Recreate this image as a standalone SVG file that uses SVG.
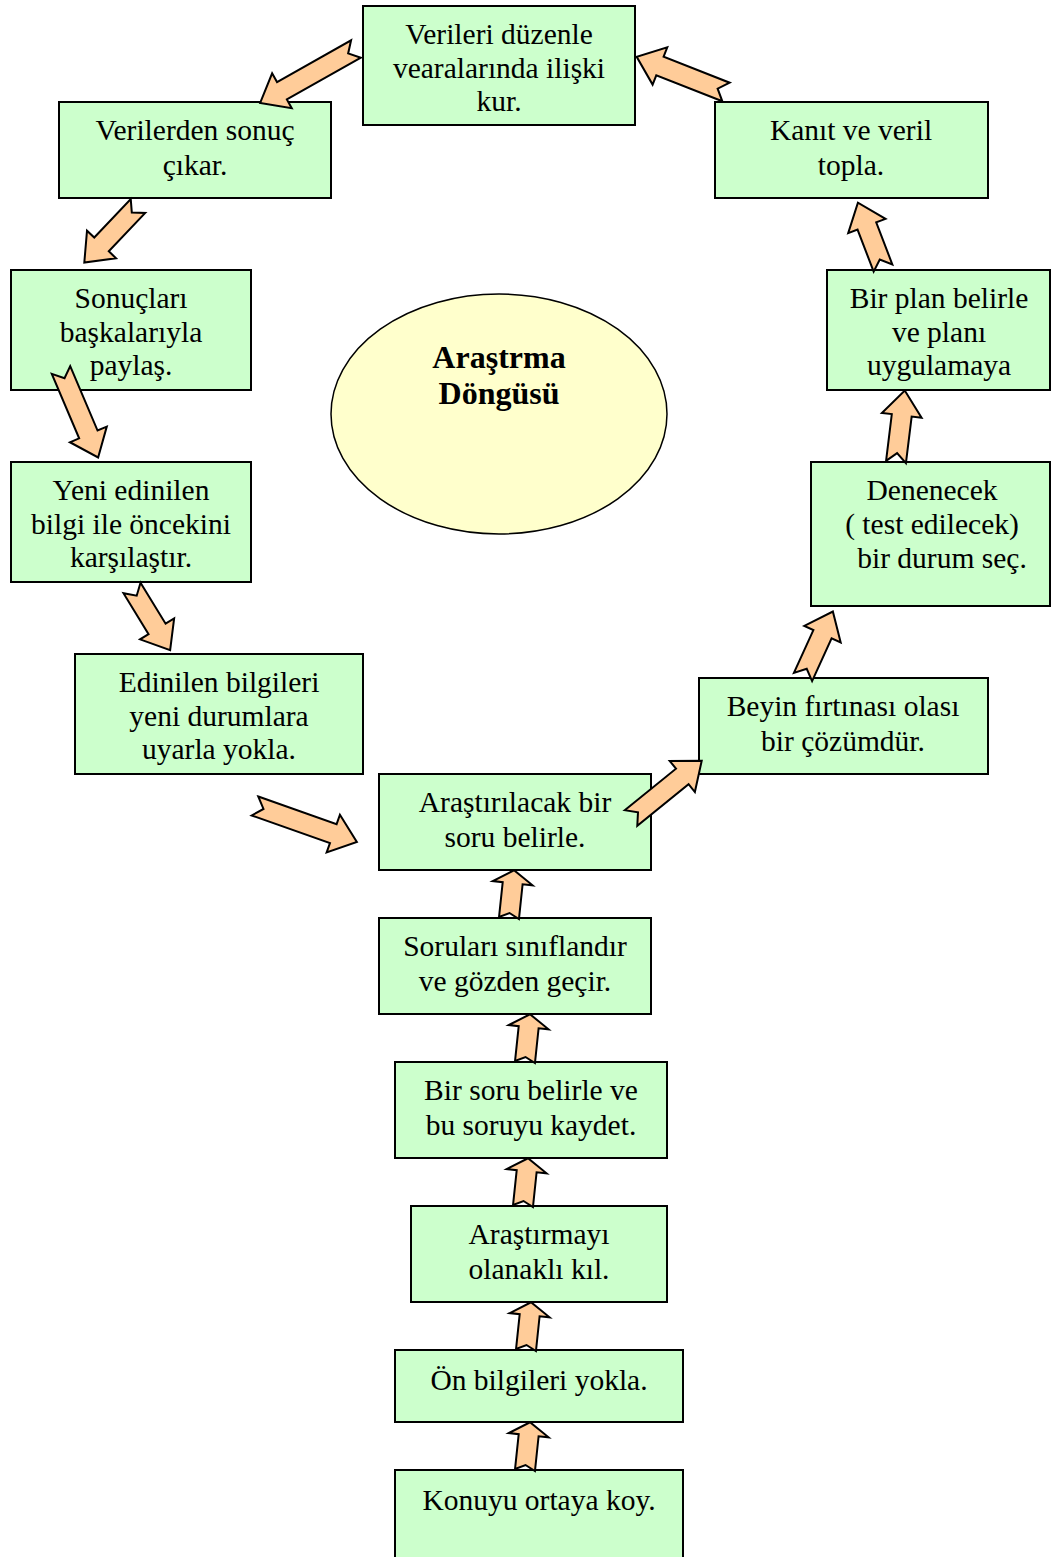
<svg xmlns="http://www.w3.org/2000/svg" width="1051" height="1557" viewBox="0 0 1051 1557">
<style>
.box{fill:#CCFFCC;stroke:#000;stroke-width:2}
.t{font-family:"Liberation Serif","Times New Roman",serif;font-size:29.5px;fill:#000;text-anchor:middle}
.tb{font-family:"Liberation Serif","Times New Roman",serif;font-size:32px;font-weight:bold;fill:#000;text-anchor:middle}
.arr{fill:#FFCC99;stroke:#000;stroke-width:2;stroke-linejoin:miter}
</style>
<rect width="1051" height="1557" fill="#fff"/>
<g id="ellipse"><ellipse cx="499" cy="414" rx="168" ry="120" fill="#FFFFCC" stroke="#000" stroke-width="1.5"/>
<text class="tb" x="499" y="368">Araştrma</text><text class="tb" x="499" y="404">Döngüsü</text></g>
<g id="n1"><rect class="box" x="363" y="6" width="272" height="119"/><text class="t" x="499" y="44">Verileri düzenle</text><text class="t" x="499" y="78">vearalarında ilişki</text><text class="t" x="499" y="111">kur.</text></g>
<g id="n2"><rect class="box" x="715" y="102" width="273" height="96"/><text class="t" x="851" y="140">Kanıt ve veril</text><text class="t" x="851" y="175">topla.</text></g>
<g id="n3"><rect class="box" x="59" y="102" width="272" height="96"/><text class="t" x="195" y="140">Verilerden sonuç</text><text class="t" x="195" y="175">çıkar.</text></g>
<g id="n4"><rect class="box" x="11" y="270" width="240" height="120"/><text class="t" x="131" y="308">Sonuçları</text><text class="t" x="131" y="342">başkalarıyla</text><text class="t" x="131" y="375">paylaş.</text></g>
<g id="n5"><rect class="box" x="827" y="270" width="223" height="120"/><text class="t" x="939" y="308">Bir plan belirle</text><text class="t" x="939" y="342">ve planı</text><text class="t" x="939" y="375">uygulamaya</text></g>
<g id="n6"><rect class="box" x="11" y="462" width="240" height="120"/><text class="t" x="131" y="500">Yeni edinilen</text><text class="t" x="131" y="534">bilgi ile öncekini</text><text class="t" x="131" y="567">karşılaştır.</text></g>
<g id="n7"><rect class="box" x="811" y="462" width="239" height="144"/><text class="t" x="932" y="500">Denenecek</text><text class="t" x="932" y="534">( test edilecek)</text><text class="t" x="942" y="568">bir durum seç.</text></g>
<g id="n8"><rect class="box" x="75" y="654" width="288" height="120"/><text class="t" x="219" y="692">Edinilen bilgileri</text><text class="t" x="219" y="726">yeni durumlara</text><text class="t" x="219" y="759">uyarla yokla.</text></g>
<g id="n9"><rect class="box" x="699" y="678" width="289" height="96"/><text class="t" x="843" y="716">Beyin fırtınası olası</text><text class="t" x="843" y="751">bir çözümdür.</text></g>
<g id="n10"><rect class="box" x="379" y="774" width="272" height="96"/><text class="t" x="515" y="812">Araştırılacak bir</text><text class="t" x="515" y="847">soru belirle.</text></g>
<g id="n11"><rect class="box" x="379" y="918" width="272" height="96"/><text class="t" x="515" y="956">Soruları sınıflandır</text><text class="t" x="515" y="991">ve gözden geçir.</text></g>
<g id="n12"><rect class="box" x="395" y="1062" width="272" height="96"/><text class="t" x="531" y="1100">Bir soru belirle ve</text><text class="t" x="531" y="1135">bu soruyu kaydet.</text></g>
<g id="n13"><rect class="box" x="411" y="1206" width="256" height="96"/><text class="t" x="539" y="1244">Araştırmayı</text><text class="t" x="539" y="1279">olanaklı kıl.</text></g>
<g id="n14"><rect class="box" x="395" y="1350" width="288" height="72"/><text class="t" x="539" y="1390">Ön bilgileri yokla.</text></g>
<g id="n15"><rect class="box" x="395" y="1470" width="288" height="100"/><text class="t" x="539" y="1510">Konuyu ortaya koy.</text></g>
<g id="connectors">
<path class="arr" transform="translate(356,49) rotate(150.6)" d="M0,-10 L85,-10 L85,-20 L110,0 L85,20 L85,10 L0,10 L9,0 Z"/>
<path class="arr" transform="translate(726,92) rotate(201.5)" d="M0,-10 L71,-10 L71,-20 L96,0 L71,20 L71,10 L0,10 L9,0 Z"/>
<path class="arr" transform="translate(138,206) rotate(133.5)" d="M0,-10 L53,-10 L53,-20 L78,0 L53,20 L53,10 L0,10 L9,0 Z"/>
<path class="arr" transform="translate(61,370) rotate(67)" d="M0,-10 L70,-10 L70,-20 L95,0 L70,20 L70,10 L0,10 L9,0 Z"/>
<path class="arr" transform="translate(132,588) rotate(58.5)" d="M0,-10 L48,-10 L48,-20 L73,0 L48,20 L48,10 L0,10 L9,0 Z"/>
<path class="arr" transform="translate(255,806) rotate(19.4)" d="M0,-10 L83,-10 L83,-20 L108,0 L83,20 L83,10 L0,10 L9,0 Z"/>
<path class="arr" transform="translate(631,818) rotate(-39)" d="M0,-10 L66,-10 L66,-20 L91,0 L66,20 L66,10 L0,10 L9,0 Z"/>
<path class="arr" transform="translate(803,677) rotate(-65.5)" d="M0,-10 L47,-10 L47,-20 L72,0 L47,20 L47,10 L0,10 L9,0 Z"/>
<path class="arr" transform="translate(896,462) rotate(-83)" d="M0,-10 L47,-10 L47,-20 L72,0 L47,20 L47,10 L0,10 L9,0 Z"/>
<path class="arr" transform="translate(883,268) rotate(-111)" d="M0,-10 L45,-10 L45,-20 L70,0 L45,20 L45,10 L0,10 L9,0 Z"/>
<path class="arr" transform="translate(525,1470) rotate(-84)" d="M0,-10 L35,-10 L35,-20 L48,0 L35,20 L35,10 L0,10 L5,0 Z"/>
<path class="arr" transform="translate(526,1350) rotate(-84)" d="M0,-10 L35,-10 L35,-20 L48,0 L35,20 L35,10 L0,10 L5,0 Z"/>
<path class="arr" transform="translate(523,1206) rotate(-84)" d="M0,-10 L35,-10 L35,-20 L48,0 L35,20 L35,10 L0,10 L5,0 Z"/>
<path class="arr" transform="translate(525,1062) rotate(-84)" d="M0,-10 L35,-10 L35,-20 L48,0 L35,20 L35,10 L0,10 L5,0 Z"/>
<path class="arr" transform="translate(509,918) rotate(-84)" d="M0,-10 L35,-10 L35,-20 L48,0 L35,20 L35,10 L0,10 L5,0 Z"/>
</g>
</svg>
